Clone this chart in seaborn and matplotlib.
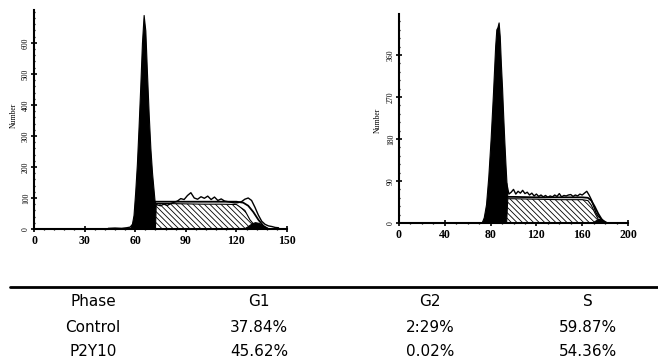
import matplotlib
matplotlib.use("Agg")
import matplotlib.pyplot as plt
import seaborn as sns
from matplotlib.lines import Line2D
from matplotlib.ticker import MultipleLocator, FixedLocator

# ---- control histogram (left) ----
g1_x_ctrl = [57, 58, 59, 60, 61, 62, 63, 64, 65, 66, 67, 68, 69, 70, 71, 72, 73]
g1_y_ctrl = [0, 15, 45, 120, 210, 330, 460, 600, 690, 640, 500, 370, 260, 180, 120, 60, 0]
s_x_ctrl = [72, 72.5, 80, 90, 100, 110, 120, 125, 128, 131, 134]
s_y_ctrl = [0, 82, 82, 81, 80, 80, 79, 60, 30, 10, 0]
g2_x_ctrl = [124, 127, 129, 131, 133, 135, 137, 140]
g2_y_ctrl = [0, 10, 18, 22, 20, 14, 6, 0]
fit_x_ctrl = [71, 80, 90, 100, 110, 120, 124, 127, 130, 133, 136, 139]
fit_y_ctrl = [88, 88, 88, 88, 88, 88, 85, 75, 55, 30, 10, 0]
raw_x_ctrl = [44, 48, 52, 55, 57, 71, 73, 75, 77, 79, 81, 83, 85, 87, 89, 91, 93, 95, 97, 99,
              101, 103, 105, 107, 109, 111, 113, 115, 117, 119, 121, 123, 125, 127, 129,
              131, 133, 135, 137, 139, 141, 143, 145]
raw_y_ctrl = [2, 3, 2, 4, 6, 90, 78, 75, 80, 76, 82, 86, 90, 98, 95, 108, 117, 100, 96, 104,
              99, 106, 95, 103, 92, 97, 90, 88, 86, 84, 85, 88, 96, 100, 92,
              70, 45, 25, 15, 10, 8, 5, 4]
yticks_ctrl = [0, 100, 200, 300, 400, 500, 600]

# ---- P2Y10 histogram (right) ----
g1_x_p2 = [72, 74, 76, 78, 80, 82, 84, 85, 86, 87, 88, 89, 90, 91, 92, 93, 94, 95, 96]
g1_y_p2 = [0, 12, 40, 100, 180, 275, 380, 415, 420, 430, 400, 340, 290, 230, 175, 125, 80, 40, 0]
s_x_p2 = [94, 95, 100, 120, 140, 160, 165, 168, 171, 174, 176]
s_y_p2 = [0, 52, 52, 51, 50, 50, 48, 38, 22, 8, 0]
g2_x_p2 = [168, 172, 175, 178, 182]
g2_y_p2 = [0, 6, 9, 5, 0]
fit_x_p2 = [94, 100, 120, 140, 160, 165, 168, 171, 174, 177, 180]
fit_y_p2 = [56, 56, 55, 55, 55, 54, 48, 35, 20, 8, 0]
raw_x_p2 = [94, 96, 98, 100, 102, 104, 106, 108, 110, 112, 114, 116, 118, 120, 122, 124, 126,
            128, 130, 132, 134, 136, 138, 140, 142, 144, 146, 148, 150, 152, 154, 156, 158,
            160, 162, 164, 166, 168, 170, 172, 174, 176, 178, 180, 182]
raw_y_p2 = [85, 62, 66, 72, 62, 68, 64, 70, 63, 66, 60, 64, 58, 62, 57, 60, 56, 59, 55, 58,
            56, 60, 57, 63, 56, 59, 58, 60, 61, 57, 60, 58, 62, 60, 64, 68, 60, 50, 36, 22,
            14, 10, 6, 3, 0]
yticks_p2 = [0, 90, 180, 270, 360]

# ---- table ----
col_labels = ["Phase", "G1", "G2", "S"]
row_control = ["Control", "37.84%", "2:29%", "59.87%"]
row_p2y10 = ["P2Y10", "45.62%", "0.02%", "54.36%"]

sns.set_style("ticks")
plt.rcParams.update({
    "hatch.linewidth": 0.6,
    "text.color": "black",
    "axes.labelcolor": "black",
    "axes.edgecolor": "black",
    "xtick.color": "black",
    "ytick.color": "black",
})
serif = ["Liberation Serif", "DejaVu Serif"]

fig = plt.figure(figsize=(6.58, 3.61), dpi=100)
W, H = 658, 361


def make_ax(x0, x1, y0, y1):
    return fig.add_axes([x0 / W, 1 - y0 / H, (x1 - x0) / W, (y0 - y1) / H])


def draw_panel(ax, g1x, g1y, sx, sy, g2x, g2y, fx, fy, rx, ry):
    ax.fill_between(g1x, g1y, color="black", lw=0.8)
    ax.fill_between(sx, sy, facecolor="white", edgecolor="black", hatch="\\\\\\\\\\\\", lw=0.8)
    ax.fill_between(g2x, g2y, color="black", lw=0.8)
    sns.lineplot(x=fx, y=fy, ax=ax, color="black", lw=1.3, sort=False)
    sns.lineplot(x=rx, y=ry, ax=ax, color="black", lw=1.0, sort=False)


def style_axes(ax, xmax, xmajor, xminor, ymax, yticks, yminor, lab_xy):
    ax.set_xlim(0, xmax)
    ax.set_ylim(0, ymax)
    sns.despine(ax=ax)
    for s in ["left", "bottom"]:
        ax.spines[s].set_linewidth(1.5)
    ax.xaxis.set_major_locator(MultipleLocator(xmajor))
    ax.xaxis.set_minor_locator(MultipleLocator(xminor))
    ax.yaxis.set_major_locator(FixedLocator(yticks))
    ax.yaxis.set_minor_locator(MultipleLocator(yminor))
    ax.tick_params(which="major", length=4, width=1.2, direction="inout", pad=2)
    ax.tick_params(which="minor", length=2, width=0.9, direction="inout")
    ax.tick_params(axis="y", labelsize=5.5, labelrotation=90, pad=1)
    ax.tick_params(axis="x", labelsize=8.5)
    for lab in ax.get_xticklabels() + ax.get_yticklabels():
        lab.set_family(serif)
    for lab in ax.get_xticklabels():
        lab.set_weight("bold")
    for lab in ax.get_yticklabels():
        lab.set_va("center")
    ax.set_xlabel("")
    ax.set_ylabel("Number", fontsize=5.5, family=serif)
    ax.yaxis.set_label_coords(*lab_xy)


ax1 = make_ax(34, 287, 229, 10)
draw_panel(ax1, g1_x_ctrl, g1_y_ctrl, s_x_ctrl, s_y_ctrl, g2_x_ctrl, g2_y_ctrl,
           fit_x_ctrl, fit_y_ctrl, raw_x_ctrl, raw_y_ctrl)
style_axes(ax1, 150, 30, 6, 706, yticks_ctrl, 20, (-0.063, 0.52))

ax2 = make_ax(399, 628, 223, 14)
draw_panel(ax2, g1_x_p2, g1_y_p2, s_x_p2, s_y_p2, g2_x_p2, g2_y_p2,
           fit_x_p2, fit_y_p2, raw_x_p2, raw_y_p2)
style_axes(ax2, 200, 40, 10, 448, yticks_p2, 18, (-0.074, 0.49))

# table rule and text
fig.add_artist(Line2D([10 / W, 1.0], [1 - 287 / H, 1 - 287 / H], color="black", lw=2))
col_x = [93, 259, 430, 588]
row_y = [302, 328, 351]
for ry, row in zip(row_y, [col_labels, row_control, row_p2y10]):
    for cx, txt in zip(col_x, row):
        fig.text(cx / W, 1 - ry / H, txt, ha="center", va="center", fontsize=11,
                 color="black", family=["DejaVu Sans"])

fig.savefig("out.png", dpi=100)
